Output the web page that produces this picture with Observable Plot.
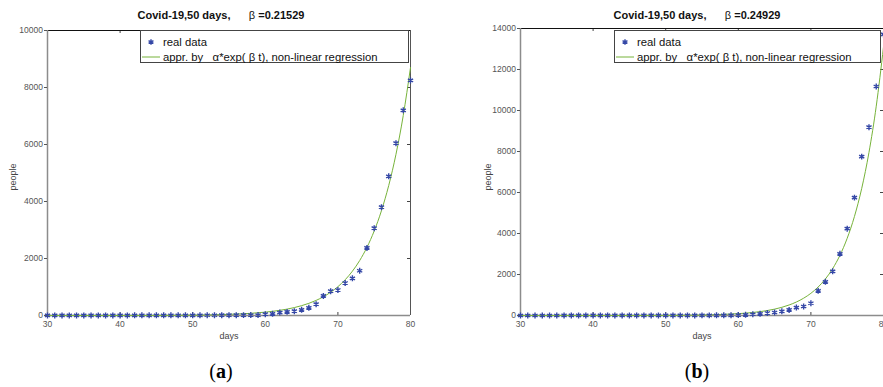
<!DOCTYPE html>
<html><head><meta charset="utf-8">
<script src="https://cdn.jsdelivr.net/npm/d3@7"></script>
<script src="https://cdn.jsdelivr.net/npm/@observablehq/plot@0.6"></script>
<style>
html,body{margin:0;padding:0;background:#fff;}
body{width:883px;height:387px;overflow:hidden;position:relative;font-family:"Liberation Sans",Arial,sans-serif;}
.abs{position:absolute;}
.panel svg{max-width:none !important;display:block;}
.title{font-size:11px;font-weight:bold;white-space:pre;color:#111;transform:translateX(-50%);top:8px;line-height:14px;}
.title .g{font-weight:normal;}
.xlab{font-size:9px;color:#444;transform:translate(-50%,-50%);white-space:pre;}
.ylab{font-size:9px;color:#444;transform:translate(-50%,-50%) rotate(-90deg);white-space:pre;}
.legend{border:1px solid #444;background:#fff;box-sizing:border-box;}
.legend .t{position:absolute;font-size:11.3px;white-space:pre;color:#111;line-height:13px;}
.cap{font-family:"Liberation Serif","DejaVu Serif",serif;font-size:20px;transform:translate(-50%,-50%);white-space:pre;color:#000;}
</style></head><body>
<script>
// ---- data ----
const days = [30,31,32,33,34,35,36,37,38,39,40,41,42,43,44,45,46,47,48,49,50,51,52,53,54,55,56,57,58,59,60,61,62,63,64,65,66,67,68,69,70,71,72,73,74,75,76,77,78,79,80];
const casesA = [2,2,2,3,3,3,3,3,4,4, 4,4,5,5,5,6,6,6,7,7, 7,8,9,9,10,11,12,13,14,16, 46,60,104,127,152,198,268,396,686,855, 895,1140,1303,1570,2372,3064,3800,4885,6047,7200,8248];
const casesB = [1,1,1,1,1,1,2,2,2,2, 2,2,2,3,3,3,3,3,4,4, 4,4,5,5,5,6,6,7,8,10, 20,35,60,82,122,147,205,272,388,440, 598,1205,1645,2155,3010,4235,5750,7750,9187,11171,13710];
const fitDays = [30,35,40,45,50,52,54,56,58,60,61,62,63,64,65,66,67,68,69,70,71,72,73,74,75,76,77,78,79,80];
const fitA = [0.19,0.55,1.6,4.7,13.7,21,32,50,76,118,146,181,224,278,345,427,530,657,815,1011,1254,1555,1928,2391,2965,3678,4561,5656,7015,8700];
const fitB = [0.05,0.18,0.6,2.1,7.4,12.2,20,33,55,90,115,147,189,243,311,400,513,658,844,1083,1390,1783,2288,2936,3767,4833,6201,7957,10210,13100];
const xTicks = [30,40,50,60,70,80];
const yTicksA = [0,2000,4000,6000,8000,10000];
const yTicksB = [0,2000,4000,6000,8000,10000,12000,14000];
const titleText = "Covid-19,50 days,";
const betaA = "0.21529";
const betaB = "0.24929";
const legendLabels = ["real data", "appr. by   α*exp( β t), non-linear regression"];
const xLabel = "days", yLabel = "people";
const captions = ["a", "b"];

const C_STAR = "#3447a6", C_FIT = "#77b33a";

function panel({cases, fit, yTicks, yMax, width, marginLeft, marginRight, marginTop}) {
  const height = 345, marginBottom = 30;
  const plotW = width - marginLeft - marginRight, plotH = height - marginTop - marginBottom;
  const pts = days.map((d, i) => ({day: d, v: cases[i]}));
  const fl = fitDays.map((d, i) => ({day: d, v: fit[i]}));
  return Plot.plot({
    width, height, marginLeft, marginRight, marginTop, marginBottom,
    x: {domain: [30, 80]}, y: {domain: [0, yMax]},
    style: {fontFamily: "Liberation Sans, Arial, sans-serif", background: "transparent", overflow: "visible"},
    marks: [
      Plot.ruleY(yTicks, {stroke: "#444", insetLeft: plotW - 3}),
      Plot.ruleX(xTicks, {stroke: "#444", insetTop: plotH - 3}),
      Plot.ruleX(xTicks, {stroke: "#444", insetBottom: plotH - 3}),
      Plot.ruleY([yMax], {stroke: "#111"}),
      Plot.ruleX([80], {stroke: "#555"}),
      Plot.ruleX([30], {stroke: "#8c8c8c", strokeWidth: 1.5}),
      Plot.ruleY([0], {stroke: "#8c8c8c", strokeWidth: 1.5}),
      Plot.axisY({anchor: "left", ticks: yTicks, tickSize: 3, tickPadding: 1.5, fontSize: 8.5, color: "#555", label: null, tickFormat: d3.format("d")}),
      Plot.axisX({anchor: "bottom", ticks: xTicks, tickSize: 0, tickPadding: 5, fontSize: 8.5, color: "#555", label: null, tickFormat: d3.format("d")}),
      Plot.line(fl, {x: "day", y: "v", stroke: C_FIT, strokeWidth: 1, curve: "monotone-x"}),
      Plot.dot(pts, {x: "day", y: "v", symbol: "asterisk", r: 2.8, stroke: C_STAR, strokeWidth: 1.4})
    ]
  });
}

const body = d3.select("body");
function place(node, left, top, w) {
  body.append("div").attr("class", "abs panel").style("left", left + "px").style("top", top + "px")
    .style("width", w + "px").node().appendChild(node);
}
place(panel({cases: casesA, fit: fitA, yTicks: yTicksA, yMax: 10000, width: 441, marginLeft: 47, marginRight: 31, marginTop: 30}), 0, 0, 441);
place(panel({cases: casesB, fit: fitB, yTicks: yTicksB, yMax: 14000, width: 480, marginLeft: 79, marginRight: 38, marginTop: 28}), 441, 0, 480);

function title(cx, beta) {
  const t = body.append("div").attr("class", "abs title").style("left", cx + "px");
  t.append("span").text(titleText + "      ");
  t.append("span").attr("class", "g").text("β ");
  t.append("span").text("=" + beta);
}
title(221, betaA);
title(697, betaB);

function legend(left, top, w, h) {
  const L = body.append("div").attr("class", "abs legend")
    .style("left", left + "px").style("top", top + "px").style("width", w + "px").style("height", h + "px");
  const s = L.append("svg").attr("class", "abs").style("left", "0px").style("top", "0px")
    .attr("width", 30).attr("height", h - 2);
  s.append("path").attr("d", d3.symbol(d3.symbolAsterisk, 22)()).attr("transform", "translate(10,11)")
    .attr("fill", "none").attr("stroke", C_STAR).attr("stroke-width", 1.4);
  s.append("line").attr("x1", 1).attr("x2", 19).attr("y1", 26).attr("y2", 26).attr("stroke", C_FIT).attr("stroke-width", 1);
  L.append("div").attr("class", "t").style("left", "22px").style("top", "4.5px").text(legendLabels[0]);
  L.append("div").attr("class", "t").style("left", "22px").style("top", "19.5px").text(legendLabels[1]);
}
legend(140, 30, 269, 33);
legend(614, 30, 267, 33);

function lab(cls, x, y, text) {
  body.append("div").attr("class", "abs " + cls).style("left", x + "px").style("top", y + "px").text(text);
}
lab("xlab", 229, 336, xLabel);
lab("xlab", 702, 336, xLabel);
lab("ylab", 13, 177, yLabel);
lab("ylab", 488, 177, yLabel);

function cap(x, y, letter) {
  const c = body.append("div").attr("class", "abs cap").style("left", x + "px").style("top", y + "px");
  c.append("span").text("(");
  c.append("b").text(letter);
  c.append("span").text(")");
}
cap(221, 371, captions[0]);
cap(697, 371, captions[1]);
</script>
</body></html>
